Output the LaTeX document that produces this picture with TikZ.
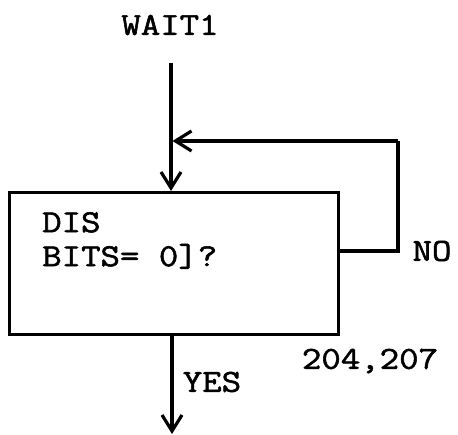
\documentclass[tikz,border=0pt]{standalone}
\usepackage{fontspec}
\setmonofont{Latin Modern Mono}[FakeStretch=1.18, FakeBold=1.8]
\usetikzlibrary{arrows.meta}
\tikzset{
  lbl/.style={font=\ttfamily\fontsize{32}{34}\selectfont, inner sep=0pt},
  flow/.style={line width=3.2pt, -{Straight Barb[length=16pt,width=20pt,line width=3.2pt]}},
  plain/.style={line width=3.2pt},
  boxstyle/.style={draw, line width=3.2pt, minimum width=329pt, minimum height=142pt, inner sep=0pt}
}
\begin{document}
\begin{tikzpicture}[x=1pt,y=-1pt]
\useasboundingbox (0,0) rectangle (458,435);
\node[lbl] (wait) at (170,25) {WAIT1};
\node[boxstyle, anchor=north west] (box) at (8,191) {};
\node[lbl, anchor=north west, align=left] (txt) at (42,212) {DIS\\BITS= 0]?};
\coordinate (top) at (171,63);
\coordinate (fb) at (172.5,141);
\coordinate (r1) at (398,141);
\coordinate (r2) at (398,251);
\coordinate (bot) at (172,434);
\draw[flow] (top) -- (top |- box.north);
\draw[plain] (box.east |- r2) -- (r2) -- (r1);
\draw[flow] (r1) -- (fb);
\draw[flow] (box.south -| bot) -- (bot);
\node[lbl] (no) at (432,251) {NO};
\node[lbl] (yes) at (212,382) {YES};
\node[lbl] (num) at (370,361) {204,207};
\end{tikzpicture}
\end{document}
